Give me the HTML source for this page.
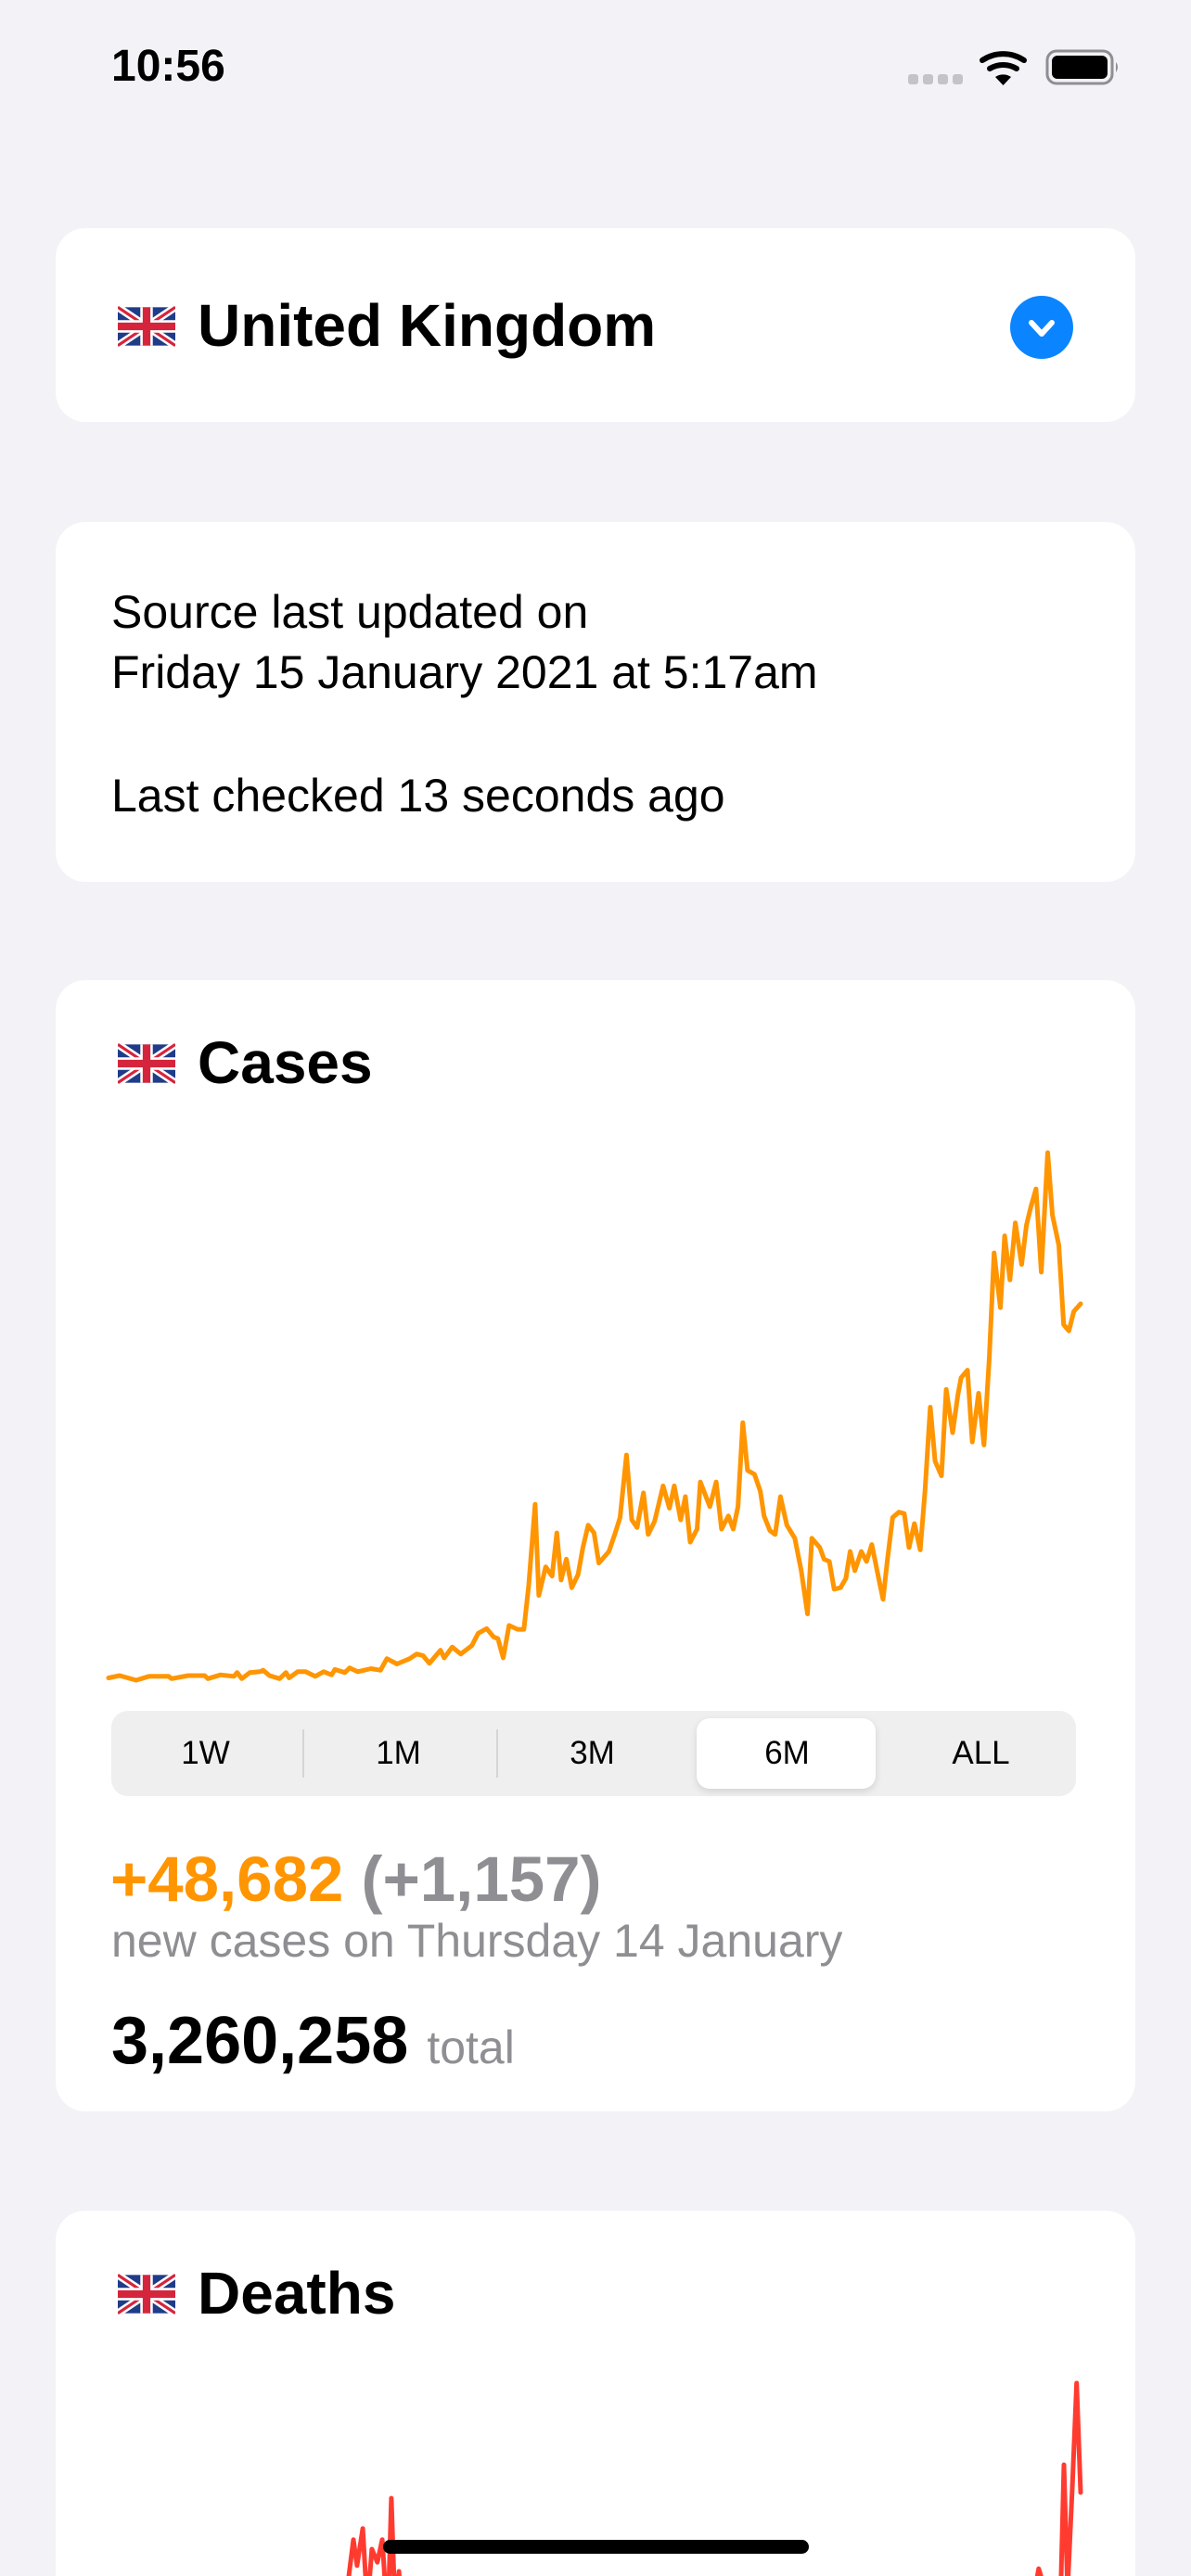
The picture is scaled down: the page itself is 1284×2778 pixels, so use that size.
<!DOCTYPE html>
<html><head><meta charset="utf-8">
<style>
html,body{margin:0;padding:0}
body{width:1284px;height:2778px;background:#F2F2F7;position:relative;overflow:hidden;font-family:"Liberation Sans",sans-serif;color:#000}
.abs{position:absolute}
.card{position:absolute;left:60px;width:1164px;background:#fff;border-radius:32px}
.t{position:absolute;white-space:nowrap;line-height:1}
.seg{position:absolute;top:0;height:92px;line-height:92px;text-align:center;font-size:35px;width:209px}
</style></head><body>
<div class="t" style="left:120px;top:48px;font-size:48px;font-weight:bold">10:56</div>
<svg class="abs" style="left:970px;top:50px" width="250" height="46">
 <g fill="#C4C4C8"><rect x="9" y="30" width="11" height="11" rx="3"/><rect x="25" y="30" width="11" height="11" rx="3"/><rect x="41" y="30" width="11" height="11" rx="3"/><rect x="57" y="30" width="11" height="11" rx="3"/></g>
 <g fill="none" stroke="#000" stroke-width="6" stroke-linecap="round"><path d="M89 15 A40 40 0 0 1 134 15"/><path d="M97 24 A28 28 0 0 1 126 24"/></g>
 <path d="M103 33 A15 15 0 0 1 120 33 L111.5 42 Z" fill="#000"/>
 <rect x="159" y="5" width="70" height="35" rx="10" fill="none" stroke="#8E8E93" stroke-width="3"/>
 <rect x="164" y="10" width="60" height="25" rx="6" fill="#000"/>
 <path d="M233 17 q4 5 0 11 Z" fill="#8E8E93"/>
</svg>

<div class="card" style="top:246px;height:209px">
 <svg class="abs" style="left:67px;top:84px" width="62" height="44" viewBox="0 0 60 40">
  <rect width="60" height="40" fill="#1F3C88"/><path d="M0 0L60 40M60 0L0 40" stroke="#fff" stroke-width="8"/><path d="M0 0L60 40M60 0L0 40" stroke="#D5253D" stroke-width="3"/><path d="M30 0V40M0 20H60" stroke="#fff" stroke-width="13"/><path d="M30 0V40M0 20H60" stroke="#D5253D" stroke-width="8"/>
 </svg>
 <div class="t" style="left:153px;top:73px;font-size:64px;font-weight:bold">United Kingdom</div>
 <svg class="abs" style="left:1028px;top:72px" width="70" height="70"><circle cx="35" cy="35" r="34" fill="#0A84FF"/><path d="M24 30 L35 42 L46 30" fill="none" stroke="#fff" stroke-width="6" stroke-linecap="round" stroke-linejoin="round"/></svg>
</div>

<div class="card" style="top:563px;height:388px">
 <div class="t" style="left:60px;top:72px;font-size:50px">Source last updated on</div>
 <div class="t" style="left:60px;top:137px;font-size:50px">Friday 15 January 2021 at 5:17am</div>
 <div class="t" style="left:60px;top:270px;font-size:50px">Last checked 13 seconds ago</div>
</div>

<div class="card" style="top:1057px;height:1220px">
 <svg class="abs" style="left:67px;top:68px" width="62" height="44" viewBox="0 0 60 40">
  <rect width="60" height="40" fill="#1F3C88"/><path d="M0 0L60 40M60 0L0 40" stroke="#fff" stroke-width="8"/><path d="M0 0L60 40M60 0L0 40" stroke="#D5253D" stroke-width="3"/><path d="M30 0V40M0 20H60" stroke="#fff" stroke-width="13"/><path d="M30 0V40M0 20H60" stroke="#D5253D" stroke-width="8"/>
 </svg>
 <div class="t" style="left:153px;top:57px;font-size:64px;font-weight:bold">Cases</div>
 <div class="abs" style="left:60px;top:788px;width:1040px;height:92px;background:#EFEFF0;border-radius:18px">
  <div class="abs" style="left:631px;top:8px;width:193px;height:76px;background:#fff;border-radius:14px;box-shadow:0 3px 8px rgba(0,0,0,0.12)"></div>
  <div class="abs" style="left:206px;top:20px;width:2px;height:52px;background:#D5D5D8"></div>
  <div class="abs" style="left:415px;top:20px;width:2px;height:52px;background:#D5D5D8"></div>
  <div class="seg" style="left:-3px">1W</div>
  <div class="seg" style="left:205px">1M</div>
  <div class="seg" style="left:414px">3M</div>
  <div class="seg" style="left:624px">6M</div>
  <div class="seg" style="left:833px">ALL</div>
 </div>
 <div class="t" style="left:59px;top:935px;font-size:69px;font-weight:bold"><span style="color:#FF9500">+48,682</span> <span style="color:#8E8E93">(+1,157)</span></div>
 <div class="t" style="left:60px;top:1011px;font-size:50px;color:#8E8E93">new cases on Thursday 14 January</div>
 <div class="t" style="left:60px;top:1108px;font-size:72px;font-weight:bold">3,260,258 <span style="font-size:50px;font-weight:normal;color:#8E8E93">total</span></div>
</div>

<div class="card" style="top:2384px;height:394px;border-radius:32px 32px 0 0">
 <svg class="abs" style="left:67px;top:68px" width="62" height="44" viewBox="0 0 60 40">
  <rect width="60" height="40" fill="#1F3C88"/><path d="M0 0L60 40M60 0L0 40" stroke="#fff" stroke-width="8"/><path d="M0 0L60 40M60 0L0 40" stroke="#D5253D" stroke-width="3"/><path d="M30 0V40M0 20H60" stroke="#fff" stroke-width="13"/><path d="M30 0V40M0 20H60" stroke="#D5253D" stroke-width="8"/>
 </svg>
 <div class="t" style="left:153px;top:57px;font-size:64px;font-weight:bold">Deaths</div>
</div>

<svg class="abs" id="charts" style="left:0;top:0;overflow:hidden" width="1284" height="2778"></svg>
<div class="abs" style="left:413px;top:2739px;width:459px;height:15px;background:#000;border-radius:8px"></div>

<script>
const caseDays=[0,2.1,5.2,7.6,11.3,11.9,15,18.1,18.7,21.1,23.6,24.2,25.1,26.6,28.5,29.1,30.3,32.2,33.4,34,35.6,37.1,38.9,40.5,42,42.6,44.5,45.4,46.9,49.4,51.2,52.4,54.3,56.7,58,59.2,60.4,62.5,63.2,64.7,66.3,68.4,69.6,71.2,72.5,73.3,74.3,75.4,77,78.2,79.1,80.3,81,82.3,83.5,84.4,85.2,86.2,87.2,88.4,89.3,90.3,91.4,92.3,94.2,95.4,96.3,97.5,98.5,99.5,100.7,101.6,102.8,104.4,105.6,106.5,107.7,108.6,109.5,110.8,111.4,113.2,114.4,115.4,116.7,117.6,118.5,119.4,120.3,121.6,122.7,123.4,124.5,125.5,126.5,127.7,129.2,130.4,131.6,132.4,133.9,134.7,135.7,136.6,137.8,138.8,139.6,140.5,141.7,142.7,143.7,144.9,145.8,146.6,147.6,148.8,149.8,150.7,151.7,152.8,153.7,154.7,155.6,156.8,157.7,158.9,159.9,160.5,161.7,162.6,163.8,164.8,165.8,166.7,167.9,168.7,169.7,170.7,171.9,172.8,173.6,174.6,175.6,176.8,177.7,178.9,179.8,180.8,181.7,183];
const caseValues=[0.3,0.6,0.0,0.5,0.5,0.2,0.6,0.6,0.2,0.7,0.5,1.0,0.2,1.0,1.1,1.3,0.6,0.2,1.0,0.3,1.1,1.1,0.5,1.1,0.7,1.4,1.0,1.6,1.1,1.5,1.3,2.8,2.1,2.8,3.4,3.2,2.2,3.9,2.9,4.3,3.4,4.5,6.1,6.7,5.6,5.4,2.9,7.1,6.6,6.6,12.3,22.8,11.0,14.7,13.5,19.1,13.0,15.7,12.0,13.7,17.2,20.1,19.1,15.2,16.7,19.1,21.1,29.2,20.8,19.8,24.3,18.9,20.6,25.2,22.3,25.2,20.8,23.8,17.9,19.6,25.7,22.5,25.7,19.6,21.3,19.6,22.5,33.4,27.2,26.7,24.5,21.3,19.4,18.9,23.8,20.1,18.4,14.2,8.6,18.4,17.2,15.7,15.4,11.8,12.0,13.2,16.7,14.2,16.7,15.4,17.6,13.5,10.5,15.4,21.1,21.8,21.6,17.2,20.3,16.9,24.5,35.4,28.4,26.5,37.7,32.1,37.0,39.2,40.2,30.9,37.2,30.5,41.7,55.4,48.3,57.6,51.9,59.3,53.9,59.0,61.3,63.7,52.9,68.4,60.3,56.4,46.1,45.3,47.8,48.8];
const deathDays=[0,40,75,80.6,81.8,83.7,85.2,86.7,88.5,90.1,91.9,93.1,94.3,95.6,97,130,200,280,300,306.2,310,313.2,314.5,315.7,317.2,318.7,320];
const deathValues=[0,200,700,1100,1023,1133,900,1072,1033,1100,850,1223,900,1006,800,300,50,400,700,1014,900,850,1322,950,1240,1564,1240];

const NS='http://www.w3.org/2000/svg';
const svg=document.getElementById('charts');
function lin(d0,d1,r0,r1){return v=>r0+(v-d0)/(d1-d0)*(r1-r0);}
const cx=lin(0,183,117,1165), cy=lin(0,68.4,1812,1243);
const dx=lin(0,320,117,1165), dy=lin(0,1564,3139,2570);
function line(xs,ys,fx,fy,color,w,name){
  const p=document.createElementNS(NS,'path');
  p.setAttribute('d',xs.map((x,i)=>(i?'L':'M')+fx(x).toFixed(1)+' '+fy(ys[i]).toFixed(1)).join(''));
  p.setAttribute('fill','none');p.setAttribute('stroke',color);p.setAttribute('stroke-width',w);
  p.setAttribute('stroke-linejoin','round');p.setAttribute('stroke-linecap','round');
  
  
  svg.appendChild(p);
}
line(caseDays,caseValues,cx,cy,'#FF9500',5,'cases-line');
line(deathDays,deathValues,dx,dy,'#FF3B30',5,'deaths-line');
</script>
</body></html>
